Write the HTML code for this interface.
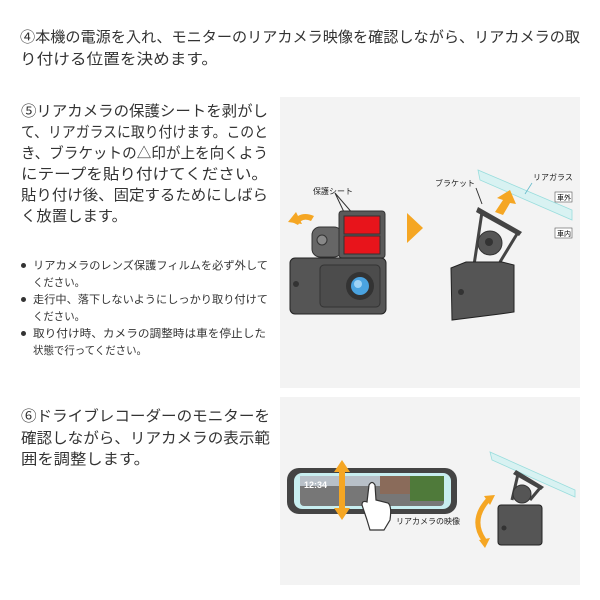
<!DOCTYPE html>
<html><head><meta charset="utf-8"><style>
body{margin:0;width:600px;height:600px;background:#fff;position:relative;overflow:hidden;font-family:"Liberation Sans","Noto Sans CJK JP",sans-serif;color:#333}
</style></head><body>
<svg style="position:absolute;left:0;top:0" width="600" height="600" font-family="Liberation Sans,Noto Sans CJK JP,sans-serif">
<g fill="#333" font-size="15" lengthAdjust="spacingAndGlyphs">
<text x="20" y="42" textLength="560" lengthAdjust="spacingAndGlyphs">④本機の電源を入れ、モニターのリアカメラ映像を確認しながら、リアカメラの取</text>
<text x="20" y="64" textLength="198" lengthAdjust="spacingAndGlyphs">り付ける位置を決めます。</text>
<text x="21" y="116" textLength="247" lengthAdjust="spacingAndGlyphs">⑤リアカメラの保護シートを剥がし</text>
<text x="21" y="137" textLength="247" lengthAdjust="spacingAndGlyphs">て、リアガラスに取り付けます。このと</text>
<text x="21" y="158" textLength="247" lengthAdjust="spacingAndGlyphs">き、ブラケットの△印が上を向くよう</text>
<text x="21" y="179" textLength="247" lengthAdjust="spacingAndGlyphs">にテープを貼り付けてください。</text>
<text x="21" y="200" textLength="247" lengthAdjust="spacingAndGlyphs">貼り付け後、固定するためにしばら</text>
<text x="21" y="221" textLength="106" lengthAdjust="spacingAndGlyphs">く放置します。</text>
<text x="21" y="421" textLength="249" lengthAdjust="spacingAndGlyphs">⑥ドライブレコーダーのモニターを</text>
<text x="21" y="443" textLength="249" lengthAdjust="spacingAndGlyphs">確認しながら、リアカメラの表示範</text>
<text x="21" y="464" textLength="129" lengthAdjust="spacingAndGlyphs">囲を調整します。</text>
</g>
<g fill="#333" font-size="11">
<circle cx="23.5" cy="265.5" r="2.5"/><circle cx="23.5" cy="299.5" r="2.5"/><circle cx="23.5" cy="333.5" r="2.5"/>
<text x="33" y="269" textLength="235" lengthAdjust="spacingAndGlyphs">リアカメラのレンズ保護フィルムを必ず外して</text>
<text x="33" y="286" textLength="52" lengthAdjust="spacingAndGlyphs">ください。</text>
<text x="33" y="303" textLength="235" lengthAdjust="spacingAndGlyphs">走行中、落下しないようにしっかり取り付けて</text>
<text x="33" y="320" textLength="52" lengthAdjust="spacingAndGlyphs">ください。</text>
<text x="33" y="337" textLength="233" lengthAdjust="spacingAndGlyphs">取り付け時、カメラの調整時は車を停止した</text>
<text x="33" y="354" textLength="114" lengthAdjust="spacingAndGlyphs">状態で行ってください。</text>
</g>
<rect x="280" y="97" width="300" height="291" fill="#f3f3f3"/>
<path d="M335 193 L360 222 M335 193 L360 246" stroke="#333" stroke-width="1"/>
<text x="313" y="194" font-size="8" fill="#222">保護シート</text>
<path d="M292 222 Q300 210 314 216 L311 221 Q302 217 298 225Z" fill="#f5a623"/>
<path d="M288 222 l8-10 l6 12z" fill="#f5a623"/>
<rect x="312" y="227" width="30" height="30" rx="8" fill="#666" stroke="#333"/>
<circle cx="322" cy="240" r="5" fill="#888" stroke="#333"/>
<rect x="339" y="211" width="46" height="47" rx="3" fill="#5a5a5a" stroke="#333"/>
<rect x="344" y="216" width="36" height="18" fill="#e8141b" stroke="#333"/>
<rect x="344" y="236" width="36" height="18" fill="#e8141b" stroke="#333"/>
<rect x="290" y="258" width="96" height="56" rx="5" fill="#555" stroke="#222"/>
<rect x="320" y="265" width="60" height="42" rx="4" fill="#4c4c4c" stroke="#333"/>
<circle cx="360" cy="286" r="14" fill="#333"/>
<circle cx="360" cy="286" r="9" fill="#4aa3e0"/>
<circle cx="358" cy="284" r="4" fill="#9fd3f5"/>
<circle cx="296" cy="284" r="3" fill="#333"/>
<polygon points="407,213 423,228 407,243" fill="#f5a623"/>
<path d="M478 170 L572 210 L572 220 L480 180Z" fill="#d8f2f2" stroke="#9dd" stroke-width="0.8"/>
<text x="533" y="180" font-size="8" fill="#222">リアガラス</text>
<line x1="532" y1="183" x2="525" y2="194" stroke="#6bc" stroke-width="0.8"/>
<rect x="555" y="192" width="17" height="10" fill="#fff" stroke="#555" stroke-width="0.6"/>
<text x="557" y="200" font-size="7">車外</text>
<rect x="555" y="228" width="17" height="10" fill="#fff" stroke="#555" stroke-width="0.6"/>
<text x="557" y="236" font-size="7">車内</text>
<text x="435" y="186" font-size="8" fill="#222">ブラケット</text>
<line x1="476" y1="188" x2="482" y2="204" stroke="#333"/>
<path d="M495 212 L503 200 L497 198 L510 190 L516 204 L510 203 L503 215Z" fill="#f5a623"/>
<path d="M478 207 L522 232 L519 236 L476 212Z" fill="#444"/>
<path d="M482 212 L474 265 M517 234 L500 262" stroke="#444" stroke-width="3" fill="none"/>
<circle cx="490" cy="243" r="12" fill="#555" stroke="#333"/>
<circle cx="489" cy="242" r="4" fill="#333"/>
<path d="M466 262 L502 262 L514 265 L514 312 L500 314 L452 320 L451 268Z" fill="#555" stroke="#222"/>
<circle cx="461" cy="292" r="3" fill="#333"/>
<rect x="280" y="397" width="300" height="188" fill="#f3f3f3"/>
<rect x="287" y="468" width="170" height="46" rx="12" fill="#444"/>
<rect x="294" y="473" width="157" height="36" rx="8" fill="#c8eef0"/>
<rect x="300" y="476" width="144" height="30" rx="4" fill="#777"/>
<rect x="300" y="476" width="144" height="10" fill="#b8c0c8"/>
<rect x="410" y="476" width="34" height="25" fill="#4f7a3a"/>
<rect x="380" y="476" width="30" height="18" fill="#8a6b5a"/>
<text x="304" y="488" font-size="9" fill="#fff" font-weight="bold">12:34</text>
<path d="M342 460 L334 472 L339 472 L339 508 L334 508 L342 520 L350 508 L345 508 L345 472 L350 472Z" fill="#f5a623"/>
<path d="M367 520 L362 505 Q362 500 367 502 L369 485 Q372 480 375 485 L376 500 L388 503 Q392 506 390 520 L384 530 L370 530Z" fill="#fff" stroke="#333" stroke-width="1.2"/>
<text x="396" y="524" font-size="8" fill="#222">リアカメラの映像</text>
<path d="M490 452 L575 490 L575 497 L492 460Z" fill="#d8f2f2" stroke="#9dd" stroke-width="0.8"/>
<path d="M516 470 L544 487 L541 490 L513 474Z" fill="#444"/>
<path d="M518 474 L512 500 M540 488 L530 500" stroke="#444" stroke-width="3" fill="none"/>
<circle cx="522" cy="494" r="9" fill="#555" stroke="#333"/>
<rect x="498" y="505" width="44" height="40" rx="3" fill="#555" stroke="#222"/>
<circle cx="504" cy="528" r="2.5" fill="#333"/>
<path d="M488 500 Q470 520 484 540" stroke="#f5a623" stroke-width="5" fill="none"/>
<polygon points="484,496 495,495 490,505" fill="#f5a623"/>
<polygon points="479,540 490,538 485,548" fill="#f5a623"/>
</svg>
</body></html>
